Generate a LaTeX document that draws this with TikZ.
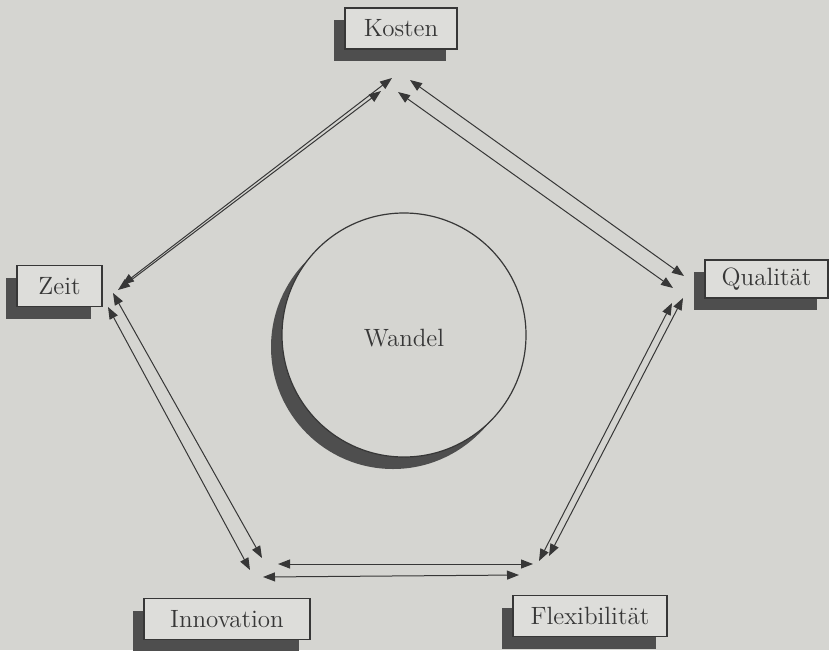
\documentclass[tikz,border=0pt]{standalone}
\usepackage{tikz}
\usetikzlibrary{arrows.meta}
\usetikzlibrary{shadows}
\usetikzlibrary{backgrounds}
\pgfdeclarelayer{edgelayer}
\pgfdeclarelayer{nodelayer}
\pgfsetlayers{background,edgelayer,nodelayer,main}
\definecolor{paper}{RGB}{213,213,209}
\definecolor{ink}{RGB}{55,55,55}
\definecolor{boxfill}{RGB}{221,221,218}
\definecolor{shade}{RGB}{78,78,78}
\tikzstyle{none}=[inner sep=0mm]
\tikzstyle{lbl}=[draw=ink,fill=boxfill,line width=0.6pt,minimum height=20.5pt,inner sep=0pt,text=ink,font=\fontsize{12.5}{15}\selectfont,general shadow={fill=shade,shadow xshift=-5.5pt,shadow yshift=-6pt}]
\tikzstyle{hub}=[lbl,shape=circle,minimum size=122pt,fill=paper,general shadow={fill=shade,shadow xshift=-4pt,shadow yshift=-4.5pt}]
\tikzstyle{dbl}=[draw=ink,line width=0.5pt,{Triangle[length=6pt,width=4.5pt]}-{Triangle[length=6pt,width=4.5pt]}]

\begin{document}
\begin{tikzpicture}[x=0.5pt,y=0.5pt]
	\useasboundingbox (0,0) rectangle (829,650);
	\begin{pgfonlayer}{background}
		\fill[paper] (0,0) rectangle (829,650);
	\end{pgfonlayer}
	\begin{pgfonlayer}{nodelayer}
		\node [style=lbl, minimum width=56pt] (kosten) at (401, 621.5) {Kosten};
		\node [style=lbl, minimum width=42.5pt] (zeit) at (59.5, 364) {Zeit};
		\node [style=lbl, minimum width=61.5pt, minimum height=19pt] (qual) at (766.5, 371) {Qualität};
		\node [style=lbl, minimum width=83pt] (innov) at (227, 31) {Innovation};
		\node [style=lbl, minimum width=77pt] (flex) at (590, 34) {Flexibilität};
		\node [style=hub] (wandel) at (404, 315) {};
		\node [style=none, text=ink, font=\fontsize{12.5}{15}\selectfont] (wtext) at (404, 312) {Wandel};
		% arrow ends
		\coordinate (zk1) at (122, 365);
		\coordinate (kz1) at (392, 572);
		\coordinate (zk2) at (118, 360);
		\coordinate (kz2) at (381, 559);
		\coordinate (kq1) at (410, 570);
		\coordinate (qk1) at (684, 374);
		\coordinate (kq2) at (398, 558);
		\coordinate (qk2) at (673, 362);
		\coordinate (qf1) at (683, 352);
		\coordinate (fq1) at (549, 94);
		\coordinate (qf2) at (672, 347);
		\coordinate (fq2) at (539, 89);
		\coordinate (fi1) at (533, 86);
		\coordinate (if1) at (278, 86);
		\coordinate (fi2) at (519, 75);
		\coordinate (if2) at (263, 73);
		\coordinate (iz1) at (262, 92);
		\coordinate (zi1) at (113, 357);
		\coordinate (iz2) at (250, 80);
		\coordinate (zi2) at (108, 343);
	\end{pgfonlayer}
	\begin{pgfonlayer}{edgelayer}
		\draw [style=dbl] (zk1) to (kz1);
		\draw [style=dbl] (zk2) to (kz2);
		\draw [style=dbl] (kq1) to (qk1);
		\draw [style=dbl] (kq2) to (qk2);
		\draw [style=dbl] (qf1) to (fq1);
		\draw [style=dbl] (qf2) to (fq2);
		\draw [style=dbl] (fi1) to (if1);
		\draw [style=dbl] (fi2) to (if2);
		\draw [style=dbl] (iz1) to (zi1);
		\draw [style=dbl] (iz2) to (zi2);
	\end{pgfonlayer}
\end{tikzpicture}
\end{document}
